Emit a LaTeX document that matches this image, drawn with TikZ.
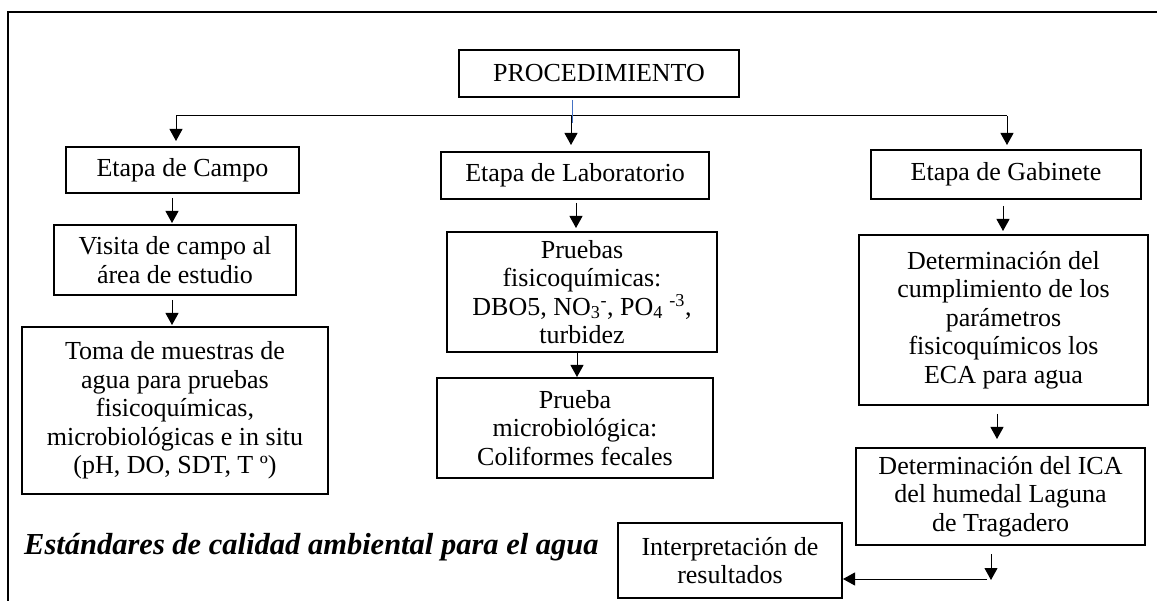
\documentclass[tikz,border=0pt]{standalone}
\usepackage{fontspec}
\setmainfont{Liberation Serif}
\usetikzlibrary{arrows.meta,calc}
\definecolor{procblue}{RGB}{68,114,196}
\tikzset{
  box/.style={draw, line width=2pt, inner sep=0pt, align=center,
    font=\fontsize{26}{28.5}\selectfont},
  conn/.style={line width=1pt},
  arr/.style={line width=1pt, -{Triangle[length=12pt,width=13pt]}},
}
\begin{document}
\begin{tikzpicture}[x=1pt,y=-1pt]
\useasboundingbox (0,0) rectangle (1157,601);
% outer frame
\draw[line width=1.7pt] (1157,12) -- (8,12) -- (8,601);

% boxes
\node[box, minimum width=280pt, minimum height=47pt] (proc) at (599,73.5) {PROCEDIMIENTO};
\node[box, minimum width=233pt, minimum height=46pt] (campo) at (182.5,170) {Etapa de Campo};
\node[box, minimum width=268pt, minimum height=47pt] (lab) at (575,175.5) {Etapa de Laboratorio};
\node[box, minimum width=270pt, minimum height=49pt] (gab) at (1006,174.5) {Etapa de Gabinete};
\node[box, minimum width=242pt, minimum height=70pt] (visita) at (175,260) {Visita de campo al\\área de estudio};
\node[box, minimum width=306pt, minimum height=167pt] (toma) at (175,410.5)
  {Toma de muestras de\\agua para pruebas\\fisicoquímicas,\\microbiológicas e in situ\\(pH, DO, SDT, T º)};
\node[box, minimum width=270pt, minimum height=120pt] (pruebas) at (582,292)
  {Pruebas\\fisicoquímicas:\\DBO5, NO\textsubscript{3}\textsuperscript{-}, PO\textsubscript{4} \textsuperscript{-3},\\turbidez};
\node[box, minimum width=276pt, minimum height=100pt] (micro) at (575,428)
  {Prueba\\microbiológica:\\Coliformes fecales};
\node[box, minimum width=289pt, minimum height=170pt] (det) at (1003.5,320)
  {Determinación del\\cumplimiento de los\\parámetros\\fisicoquímicos los\\ECA para agua};
\node[box, minimum width=289pt, minimum height=97pt] (ica) at (1000.5,496.5)
  {Determinación del ICA\\del humedal Laguna\\de Tragadero};
\node[box, minimum width=224pt, minimum height=75pt] (interp) at (730,560.5)
  {Interpretación de\\resultados};

% italic title
\node[anchor=base west, inner sep=0pt, font=\fontsize{30.5}{33}\selectfont\bfseries\itshape] (eca) at (24,554)
  {Estándares de calidad ambiental para el agua};

% top distribution bus
\coordinate (bL) at (176,116);
\coordinate (bM) at (571,116);
\coordinate (bR) at (1007,116);
\coordinate (blueTop) at (572,100);
\coordinate (blueBot) at (572,123);
\draw[conn] (bL) -- (bR);
\draw[line width=1pt, procblue] (blueTop) -- (blueBot);
\draw[arr, shorten >=5pt] (bL) -- (bL |- campo.north);
\draw[arr, shorten >=6pt] (bM) -- (bM |- lab.north);
\draw[arr, shorten >=4pt] (bR) -- (bR |- gab.north);

% column connectors
\coordinate (xc) at (172,0);
\coordinate (xl1) at (576,0);
\coordinate (xl2) at (577,0);
\coordinate (xg1) at (1003,0);
\coordinate (xg2) at (997,0);
\coordinate (xg3) at (991,0);
\draw[arr, shorten <=4pt, shorten >=1pt] (campo.south -| xc) -- (visita.north -| xc);
\draw[arr, shorten <=4pt, shorten >=1pt] (visita.south -| xc) -- (toma.north -| xc);
\draw[arr, shorten <=3pt, shorten >=3pt] (lab.south -| xl1) -- (pruebas.north -| xl1);
\draw[arr] (pruebas.south -| xl2) -- (micro.north -| xl2);
\draw[arr, shorten <=6pt, shorten >=3pt] (gab.south -| xg1) -- (det.north -| xg1);
\draw[arr, shorten <=8pt, shorten >=8pt] (det.south -| xg2) -- (ica.north -| xg2);
\coordinate (corner) at (991,580);
\draw[arr, shorten <=8pt] (ica.south -| xg3) -- (corner);
\coordinate (hx) at (987,579);
\draw[arr] (hx) -- (hx -| interp.east);
\end{tikzpicture}
\end{document}
